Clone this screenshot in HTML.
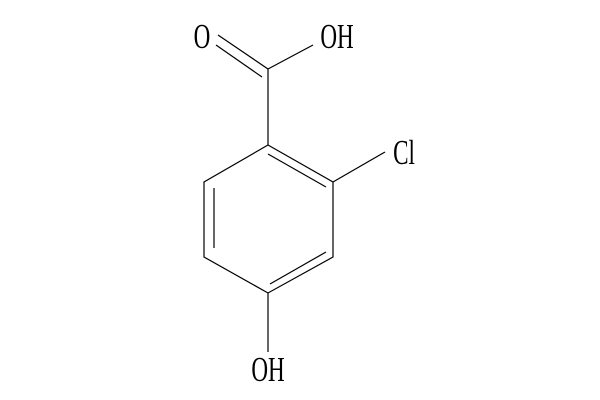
<!DOCTYPE html>
<html><head><meta charset="utf-8"><style>
html,body{margin:0;padding:0;background:#fff;}
svg{display:block;}
text{font-family:"Liberation Serif",serif;font-size:35px;fill:#000;}
</style></head><body>
<svg width="600" height="400" viewBox="0 0 600 400">
<g stroke="#000" stroke-width="1.2" fill="none">
<polyline points="268,145 333,182 333,257 268,293 204,257 204,182 268,145"/>
<line x1="268" y1="154" x2="326" y2="187"/>
<line x1="326" y1="252" x2="270" y2="284"/>
<line x1="214" y1="188" x2="214" y2="248"/>
<line x1="268" y1="145" x2="268" y2="69"/>
<line x1="268" y1="69" x2="313" y2="45"/>
<line x1="268" y1="69" x2="218" y2="35"/>
<line x1="262" y1="77" x2="216" y2="45"/>
<line x1="333" y1="182" x2="385" y2="152"/>
<line x1="268" y1="293" x2="268" y2="352"/>
</g>
<g transform="translate(202,48) scale(0.66,1)"><text x="0" y="0" text-anchor="middle">O</text></g>
<g transform="translate(337,48) scale(0.66,1)"><text x="0" y="0" text-anchor="middle">OH</text></g>
<g transform="translate(404,164) scale(0.66,1)"><text x="0" y="0" text-anchor="middle">Cl</text></g>
<g transform="translate(268,381) scale(0.66,1)"><text x="0" y="0" text-anchor="middle">OH</text></g>
</svg>
</body></html>
